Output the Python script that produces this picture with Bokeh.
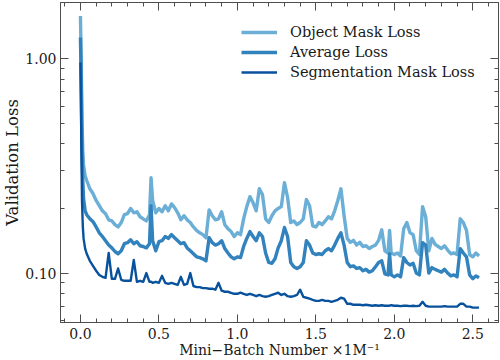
from bokeh.plotting import figure
from bokeh.models import (LinearAxis, LogAxis, FixedTicker, PrintfTickFormatter,
                          CustomJSTickFormatter, Range1d, Legend, LegendItem)
from bokeh.embed import file_html
from bokeh.resources import INLINE

# ---------------- data ----------------
X = [0, 0.005, 0.01, 0.015, 0.02, 0.03, 0.04, 0.06, 0.08, 0.10,
     0.12, 0.14, 0.16, 0.18, 0.20, 0.22, 0.24, 0.26, 0.28, 0.30,
     0.32, 0.34, 0.36, 0.38, 0.40, 0.42, 0.44, 0.45, 0.46, 0.48,
     0.50, 0.52, 0.54, 0.56, 0.58, 0.60, 0.62, 0.64, 0.66, 0.68,
     0.70, 0.72, 0.74, 0.76, 0.78, 0.80, 0.82, 0.84, 0.86, 0.88,
     0.90, 0.92, 0.94, 0.96, 0.98, 1.00, 1.02, 1.04, 1.06, 1.08,
     1.10, 1.12, 1.14, 1.16, 1.18, 1.20, 1.22, 1.24, 1.26, 1.28,
     1.30, 1.32, 1.34, 1.36, 1.38, 1.40, 1.42, 1.44, 1.46, 1.48,
     1.50, 1.52, 1.54, 1.56, 1.58, 1.60, 1.62, 1.64, 1.66, 1.68,
     1.70, 1.72, 1.74, 1.76, 1.78, 1.80, 1.82, 1.84, 1.86, 1.88,
     1.90, 1.92, 1.94, 1.96, 1.97, 1.98, 2.00, 2.02, 2.04, 2.06,
     2.08, 2.10, 2.12, 2.14, 2.16, 2.18, 2.20, 2.22, 2.24, 2.26,
     2.28, 2.30, 2.32, 2.34, 2.36, 2.38, 2.40, 2.42, 2.44, 2.46,
     2.48, 2.50, 2.52, 2.54]

OBJECT_LOSS = [1.58, 0.98, 0.514, 0.372, 0.317, 0.284, 0.270, 0.247, 0.235, 0.218,
               0.206, 0.195, 0.189, 0.177, 0.175, 0.168, 0.164, 0.172, 0.187, 0.189,
               0.200, 0.191, 0.193, 0.183, 0.179, 0.175, 0.187, 0.278, 0.218, 0.191,
               0.200, 0.193, 0.206, 0.195, 0.210, 0.202, 0.191, 0.177, 0.185, 0.177,
               0.172, 0.164, 0.158, 0.154, 0.151, 0.146, 0.197, 0.185, 0.177, 0.179,
               0.193, 0.168, 0.161, 0.156, 0.148, 0.154, 0.151, 0.179, 0.204, 0.227,
               0.213, 0.195, 0.247, 0.232, 0.179, 0.172, 0.185, 0.195, 0.200, 0.204,
               0.264, 0.225, 0.172, 0.175, 0.168, 0.172, 0.179, 0.220, 0.206, 0.166,
               0.164, 0.172, 0.168, 0.175, 0.183, 0.179, 0.195, 0.218, 0.247, 0.185,
               0.145, 0.139, 0.142, 0.135, 0.139, 0.133, 0.134, 0.130, 0.133, 0.135,
               0.142, 0.159, 0.127, 0.124, 0.158, 0.124, 0.122, 0.124, 0.120, 0.161,
               0.172, 0.154, 0.151, 0.127, 0.122, 0.204, 0.183, 0.127, 0.145, 0.136,
               0.133, 0.130, 0.134, 0.128, 0.123, 0.124, 0.122, 0.179, 0.172, 0.158,
               0.122, 0.119, 0.124, 0.120]

AVERAGE_LOSS = [1.253, 0.789, 0.372, 0.270, 0.222, 0.195, 0.187, 0.179, 0.1735, 0.164,
                0.154, 0.148, 0.1415, 0.135, 0.131, 0.126, 0.123, 0.127, 0.137, 0.1385,
                0.143, 0.137, 0.140, 0.134, 0.133, 0.131, 0.137, 0.206, 0.1415, 0.127,
                0.140, 0.1415, 0.148, 0.145, 0.151, 0.146, 0.1415, 0.137, 0.1385, 0.131,
                0.127, 0.123, 0.119, 0.118, 0.1165, 0.114, 0.146, 0.1385, 0.135, 0.137,
                0.1415, 0.130, 0.124, 0.119, 0.1165, 0.119, 0.118, 0.133, 0.145, 0.156,
                0.148, 0.1415, 0.154, 0.148, 0.124, 0.112, 0.111, 0.1165, 0.131, 0.1415,
                0.163, 0.148, 0.112, 0.107, 0.105, 0.107, 0.112, 0.1415, 0.135, 0.124,
                0.122, 0.123, 0.122, 0.127, 0.130, 0.127, 0.135, 0.145, 0.154, 0.135,
                0.112, 0.107, 0.108, 0.105, 0.106, 0.1025, 0.104, 0.101, 0.1025, 0.107,
                0.112, 0.114, 0.099, 0.098, 0.123, 0.098, 0.096, 0.098, 0.096, 0.118,
                0.112, 0.109, 0.111, 0.100, 0.098, 0.1385, 0.135, 0.100, 0.106, 0.104,
                0.1025, 0.101, 0.104, 0.100, 0.097, 0.098, 0.096, 0.130, 0.124, 0.119,
                0.098, 0.094, 0.097, 0.095]

SEGMENTATION_LOSS = [0.958, 0.461, 0.218, 0.166, 0.145, 0.130, 0.123, 0.114, 0.108, 0.1025,
                     0.098, 0.096, 0.095, 0.124, 0.094, 0.094, 0.105, 0.093, 0.092, 0.092,
                     0.092, 0.115, 0.091, 0.092, 0.091, 0.100, 0.091, 0.091, 0.090, 0.091,
                     0.090, 0.097, 0.090, 0.089, 0.090, 0.089, 0.088, 0.096, 0.088, 0.089,
                     0.100, 0.087, 0.086, 0.086, 0.085, 0.085, 0.0845, 0.0845, 0.0836, 0.090,
                     0.0827, 0.0818, 0.0818, 0.0809, 0.080, 0.080, 0.081, 0.080, 0.079, 0.080,
                     0.079, 0.078, 0.079, 0.078, 0.0775, 0.078, 0.079, 0.080, 0.081, 0.079,
                     0.080, 0.078, 0.0775, 0.078, 0.079, 0.0836, 0.0775, 0.0767, 0.0759, 0.075,
                     0.0742, 0.0742, 0.075, 0.0742, 0.0742, 0.0734, 0.0742, 0.075, 0.0767, 0.0759,
                     0.0719, 0.0719, 0.0711, 0.0711, 0.0711, 0.0708, 0.0711, 0.0708, 0.0704, 0.0708,
                     0.0704, 0.0708, 0.0704, 0.0704, 0.0704, 0.0708, 0.0704, 0.0704, 0.0701, 0.0704,
                     0.0704, 0.0701, 0.0704, 0.0701, 0.0704, 0.0734, 0.0704, 0.0697, 0.0697, 0.0697,
                     0.0697, 0.0697, 0.0701, 0.0697, 0.0697, 0.0697, 0.0697, 0.0719, 0.0719, 0.0697,
                     0.0697, 0.069, 0.069, 0.069]

SERIES_NAMES = ["Object Mask Loss", "Average Loss", "Segmentation Mask Loss"]

X_TICKS = [0.0, 0.5, 1.0, 1.5, 2.0, 2.5]
X_MINOR_TICKS = [-0.1, 0.1, 0.2, 0.3, 0.4, 0.6, 0.7, 0.8, 0.9, 1.1, 1.2, 1.3, 1.4,
                 1.6, 1.7, 1.8, 1.9, 2.1, 2.2, 2.3, 2.4, 2.6]
Y_TICKS = [0.1, 1.0]
Y_MINOR_TICKS = [0.06, 0.07, 0.08, 0.09, 0.2, 0.3, 0.4, 0.5, 0.6, 0.7, 0.8, 0.9]

X_LABEL = "Mini\u2212Batch Number \u00d71M\u207b\u00b9"
Y_LABEL = "Validation Loss"

# ---------------- style ----------------
COLORS = ["#6baed6", "#3182bd", "#08519c"]
WIDTHS = [3.4, 3.4, 2.4]
FONT = "DejaVu Serif"
AX_COL = "#4d4d4d"
TXT_COL = "#1a1a1a"

p = figure(width=500, height=360, y_axis_type="log",
           x_range=Range1d(-0.127, 2.664), y_range=Range1d(0.0588, 1.825),
           output_backend="svg", toolbar_location=None,
           min_border_left=59, min_border_right=2, min_border_top=2, min_border_bottom=38,
           background_fill_color="white", border_fill_color="white")
p.grid.visible = False
p.outline_line_color = AX_COL
p.outline_line_width = 1

renderers = []
for ys, c, w in zip([OBJECT_LOSS, AVERAGE_LOSS, SEGMENTATION_LOSS], COLORS, WIDTHS):
    r = p.line(X, ys, line_color=c, line_width=w, line_join="round")
    renderers.append(r)


def style_axis(ax, show_labels):
    ax.axis_line_color = AX_COL
    ax.major_tick_line_color = AX_COL
    ax.minor_tick_line_color = AX_COL
    ax.major_tick_in = 8
    ax.major_tick_out = 0
    ax.minor_tick_in = 4
    ax.minor_tick_out = 0
    if show_labels:
        ax.major_label_text_font = FONT
        ax.major_label_text_font_size = "14px"
        ax.major_label_text_color = TXT_COL
        ax.axis_label_text_font = FONT
        ax.axis_label_text_font_style = "normal"
        ax.axis_label_text_color = TXT_COL
    else:
        ax.formatter = CustomJSTickFormatter(code="return ''")
        ax.major_label_text_font_size = "1px"
        ax.major_label_standoff = 0
        ax.axis_label = None


xa = p.xaxis[0]
xa.ticker = FixedTicker(ticks=X_TICKS, minor_ticks=X_MINOR_TICKS)
xa.formatter = PrintfTickFormatter(format="%.1f")
xa.axis_label = X_LABEL
xa.major_label_standoff = 5
xa.axis_label_standoff = 0
style_axis(xa, True)
xa.axis_label_text_font_size = "14px"

ya = p.yaxis[0]
ya.ticker = FixedTicker(ticks=Y_TICKS, minor_ticks=Y_MINOR_TICKS)
ya.formatter = PrintfTickFormatter(format="%.2f")
ya.axis_label = Y_LABEL
ya.major_label_standoff = 4
ya.axis_label_standoff = 0
style_axis(ya, True)
ya.axis_label_text_font_size = "16.5px"

top = LinearAxis(ticker=FixedTicker(ticks=X_TICKS, minor_ticks=X_MINOR_TICKS))
style_axis(top, False)
p.add_layout(top, "above")
right = LogAxis(ticker=FixedTicker(ticks=Y_TICKS, minor_ticks=Y_MINOR_TICKS))
style_axis(right, False)
p.add_layout(right, "right")

legend = Legend(items=[LegendItem(label=n, renderers=[r]) for n, r in zip(SERIES_NAMES, renderers)],
                location=(181, 240))
legend.border_line_color = None
legend.background_fill_alpha = 0
legend.label_text_font = FONT
legend.label_text_font_size = "14.5px"
legend.label_text_color = TXT_COL
legend.glyph_width = 36
legend.glyph_height = 20
legend.label_height = 20
legend.label_standoff = 13
legend.spacing = 0
legend.padding = 0
legend.margin = 0
p.add_layout(legend)

open("out.html", "w").write(file_html(p, INLINE))
